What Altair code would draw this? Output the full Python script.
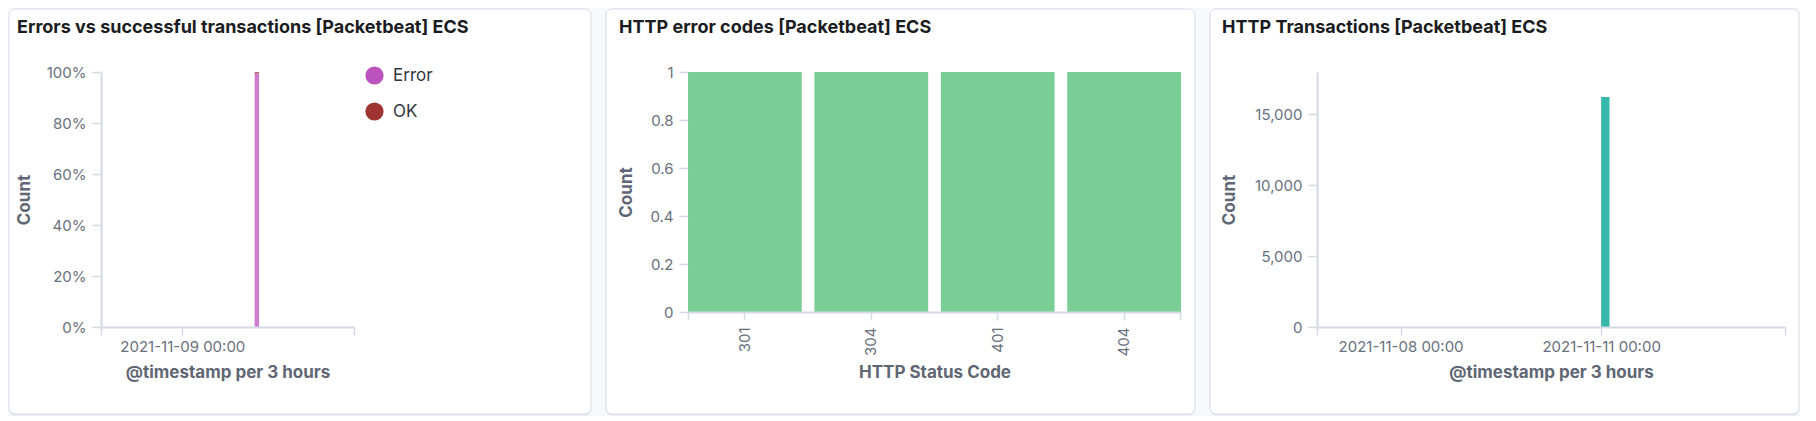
import altair as alt
import pandas as pd

# ---------------- data ----------------
titles = [
    "Errors vs successful transactions [Packetbeat] ECS",
    "HTTP error codes [Packetbeat] ECS",
    "HTTP Transactions [Packetbeat] ECS",
]

time_domain = ["2021-11-06T18:00:00Z", "2021-11-13T18:00:00Z"]

p1_start = ["2021-11-11T00:00:00Z", "2021-11-11T00:00:00Z"]
p1_end = ["2021-11-11T03:00:00Z", "2021-11-11T03:00:00Z"]
p1_status = ["Error", "OK"]
p1_count = [16160, 83]
p1_ticks = ["2021-11-06T18:00:00Z", "2021-11-09T00:00:00Z", "2021-11-13T18:00:00Z"]

p2_codes = ["301", "304", "401", "404"]
p2_count = [1, 1, 1, 1]

p3_start = ["2021-11-11T00:00:00Z"]
p3_end = ["2021-11-11T03:00:00Z"]
p3_count = [16243]
p3_ticks = ["2021-11-06T18:00:00Z", "2021-11-08T00:00:00Z",
            "2021-11-11T00:00:00Z", "2021-11-13T18:00:00Z"]


def ms(s):
    return int(pd.Timestamp(s).value // 10**6)


FONT = "Inter"
LABEL_COLOR = "#69707d"
TITLE_AX_COLOR = "#5f6674"
AXIS_LINE = "#d3dae6"
TIME_LABEL = "utcFormat(datum.value, '%H') == '00' ? utcFormat(datum.value, '%Y-%m-%d %H:%M') : ''"

one = pd.DataFrame({"k": [0]})


def panel_bg(left, right, top=-63, bottom=342):
    shadow = alt.Chart(one).mark_rect(fill="#e3e7ee", cornerRadius=6).encode(
        x=alt.value(left), x2=alt.value(right), y=alt.value(top + 1), y2=alt.value(bottom + 1.5)
    )
    card = alt.Chart(one).mark_rect(
        fill="white", stroke="#d3dae6", strokeWidth=1, cornerRadius=6
    ).encode(x=alt.value(left), x2=alt.value(right), y=alt.value(top), y2=alt.value(bottom))
    return shadow, card


def title_text(t, dx, dy=-39):
    return alt.Chart(pd.DataFrame({"t": [t]})).mark_text(
        align="left", baseline="alphabetic", font=FONT, fontSize=18,
        fontWeight="bold", color="#1a1c21"
    ).encode(x=alt.value(dx), y=alt.value(dy), text="t:N")


def axis_common(**kw):
    base = dict(
        labelFont=FONT, labelFontSize=15, labelColor=LABEL_COLOR,
        titleFont=FONT, titleFontSize=17, titleFontWeight="bold", titleColor=TITLE_AX_COLOR,
        domainColor=AXIS_LINE, tickColor=AXIS_LINE, domainWidth=2, tickWidth=1.5,
        grid=False, zindex=1,
    )
    base.update(kw)
    return alt.Axis(**base)


# ---------------- panel 1 ----------------
W1, H1 = 253, 255
df1 = pd.DataFrame({"start": p1_start, "end": p1_end, "status": p1_status, "count": p1_count})
bars1 = alt.Chart(df1).transform_stack(
    stack="count", as_=["y0", "y1"], groupby=["start"], offset="normalize",
    sort=[alt.SortField("status", order="ascending")]
).mark_bar(opacity=0.75, clip=True).encode(
    x=alt.X("start:T", scale=alt.Scale(type="utc", domain=[ms(d) for d in time_domain]),
            axis=axis_common(values=[ms(d) for d in p1_ticks], labelExpr=TIME_LABEL,
                             tickSize=8, labelPadding=4, labelFlush=False, labelOverlap=False,
                             title="@timestamp per 3 hours", titleY=45, titleBaseline="middle")),
    x2="end:T",
    y=alt.Y("y0:Q", scale=alt.Scale(domain=[0, 1]),
            axis=axis_common(values=[0, 0.2, 0.4, 0.6, 0.8, 1], format="%", tickSize=9,
                             labelPadding=6, title="Count", titleX=-77, titleBaseline="middle")),
    y2="y1:Q",
    color=alt.Color("status:N", scale=alt.Scale(domain=p1_status, range=["#bc52bc", "#9e3533"]),
                    legend=alt.Legend(orient="none", legendX=264, legendY=-6, title=None,
                                      symbolType="circle", symbolSize=330, symbolOpacity=1,
                                      symbolStrokeWidth=0, labelFont=FONT, labelFontSize=17,
                                      labelColor="#343741", rowPadding=17, labelOffset=9,
                                      padding=0)),
)
s1, c1 = panel_bg(-92, 490)
panel1 = alt.layer(s1, c1, bars1, title_text(titles[0], -84)).properties(width=W1, height=H1)

# ---------------- panel 2 ----------------
W2, H2 = 493, 240
df2 = pd.DataFrame({"code": p2_codes, "count": p2_count})
bars2 = alt.Chart(df2).mark_bar(color="#57c17b", opacity=0.8).encode(
    x=alt.X("code:N", sort=None, scale=alt.Scale(paddingInner=0.1, paddingOuter=0),
            axis=axis_common(labelAngle=-90, tickSize=8, labelPadding=7,
                             title="HTTP Status Code", titleY=60, titleBaseline="middle")),
    y=alt.Y("count:Q", scale=alt.Scale(domain=[0, 1]),
            axis=axis_common(values=[0, 0.2, 0.4, 0.6, 0.8, 1], format="~g", tickSize=9,
                             labelPadding=6, domain=False, title="Count", titleX=-61.5,
                             titleBaseline="middle")),
)
edge_l = alt.Chart(one).mark_rule(color=AXIS_LINE, strokeWidth=1.5).encode(
    x=alt.value(0.5), y=alt.value(H2), y2=alt.value(H2 + 8))
edge_r = alt.Chart(one).mark_rule(color=AXIS_LINE, strokeWidth=1.5).encode(
    x=alt.value(W2 - 0.5), y=alt.value(H2), y2=alt.value(H2 + 8))
s2, c2 = panel_bg(-82, 507)
panel2 = alt.layer(s2, c2, bars2, edge_l, edge_r, title_text(titles[1], -69)).properties(
    width=W2, height=H2)

# ---------------- panel 3 ----------------
W3, H3 = 468, 255
df3 = pd.DataFrame({"start": p3_start, "end": p3_end, "count": p3_count})
bars3 = alt.Chart(df3).mark_bar(color="#36b8aa", clip=True).encode(
    x=alt.X("start:T", scale=alt.Scale(type="utc", domain=[ms(d) for d in time_domain]),
            axis=axis_common(values=[ms(d) for d in p3_ticks], labelExpr=TIME_LABEL,
                             tickSize=8, labelPadding=4, labelFlush=False, labelOverlap=False,
                             title="@timestamp per 3 hours", titleY=45, titleBaseline="middle")),
    x2="end:T",
    y=alt.Y("count:Q", scale=alt.Scale(domain=[0, 18000], nice=False),
            axis=axis_common(values=[0, 5000, 10000, 15000], format=",.0f", tickSize=9,
                             labelPadding=6, title="Count", titleX=-88, titleBaseline="middle")),
    y2=alt.datum(0),
)
s3, c3 = panel_bg(-107, 482)
panel3 = alt.layer(s3, c3, bars3, title_text(titles[2], -95)).properties(width=W3, height=H3)

chart = (
    alt.hconcat(panel1, panel2, panel3, spacing=13)
    .properties(padding=0, background="#f7f8fb")
    .configure_view(stroke=None)
)

chart.save("out.html", embed_options={"renderer": "svg", "actions": False})
